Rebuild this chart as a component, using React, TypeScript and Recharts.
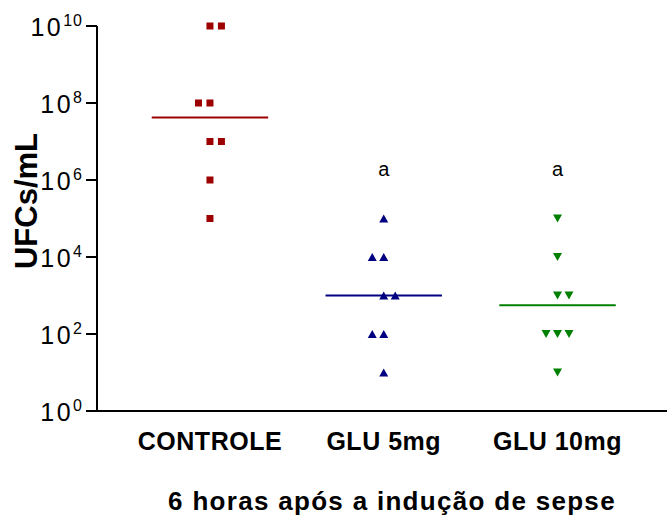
import { ReferenceDot, ReferenceLine, Scatter, ScatterChart, XAxis, YAxis } from "recharts";

const groups = ["CONTROLE", "GLU 5mg", "GLU 10mg"];
const controle = [1e10, 1e10, 1e8, 1e8, 1e7, 1e7, 1e6, 1e5];
const controleSlots = [0, 1, -1, 0, 0, 1, 0, 0];
const glu5 = [1e5, 1e4, 1e4, 1e3, 1e3, 1e2, 1e2, 1e1];
const glu5Slots = [0, -1, 0, 0, 1, -1, 0, 0];
const glu10 = [1e5, 1e4, 1e3, 1e3, 1e2, 1e2, 1e2, 1e1];
const glu10Slots = [0, 0, 0, 1, -1, 0, 1, 0];
const yTicks = [1, 1e2, 1e4, 1e6, 1e8, 1e10];
const sigLetters = ["", "a", "a"];

const JITTER = 0.066;
const HALF = 0.335;
const FONT = "Arial, 'Liberation Sans', Helvetica, sans-serif";

const toPoints = (vals: number[], slots: number[], g: number) =>
  vals.map((v, i) => ({ x: g + slots[i] * JITTER, y: v }));

// horizontal bar = geometric mean of each group
const geoMean = (vals: number[]) =>
  Math.pow(10, vals.reduce((s, v) => s + Math.log10(v), 0) / vals.length);

const series = [
  { name: groups[0], data: toPoints(controle, controleSlots, 1), color: "#9c0000", mark: "square", mean: geoMean(controle) },
  { name: groups[1], data: toPoints(glu5, glu5Slots, 2), color: "#000080", mark: "up", mean: geoMean(glu5) },
  { name: groups[2], data: toPoints(glu10, glu10Slots, 3), color: "#008000", mark: "down", mean: geoMean(glu10) },
];

function Marker({ cx, cy, color, mark }: any) {
  if (mark === "square") return <rect x={cx - 3.5} y={cy - 3.5} width={7} height={7} fill={color} />;
  if (mark === "up") return <path d={`M${cx - 4.5},${cy + 4} L${cx + 4.5},${cy + 4} L${cx},${cy - 4} Z`} fill={color} />;
  return <path d={`M${cx - 4.5},${cy - 4} L${cx + 4.5},${cy - 4} L${cx},${cy + 4} Z`} fill={color} />;
}

function YTick({ x, y, payload }: any) {
  const exp = Math.round(Math.log10(payload.value));
  return (
    <text x={x} y={y + 10} textAnchor="end" fontFamily={FONT} fill="#000">
      <tspan fontSize={25} letterSpacing={2.5}>10</tspan>
      <tspan fontSize={16} letterSpacing={1} dy={-10}>{exp}</tspan>
    </text>
  );
}

function XTick({ x, y, payload }: any) {
  return (
    <text x={x} y={y + 31} textAnchor="middle" fontFamily={FONT} fontWeight="bold" fontSize={25} letterSpacing={0.5} fill="#000">
      {groups[payload.value - 1]}
    </text>
  );
}

export default function App() {
  return (
    <div style={{ position: "absolute", left: 0, top: 0, background: "#fff" }}>
      <ScatterChart width={667} height={516} margin={{ top: 26, right: 0, bottom: 25, left: 0 }}>
        <XAxis
          type="number"
          dataKey="x"
          domain={[0.35, 3.63]}
          ticks={[1, 2, 3]}
          height={80}
          tickLine={false}
          axisLine={{ stroke: "#000", strokeWidth: 2 }}
          tick={<XTick />}
          label={({ viewBox }: any) => (
            <text
              x={viewBox.x + viewBox.width / 2 + 10}
              y={510}
              textAnchor="middle"
              fontFamily={FONT}
              fontWeight="bold"
              fontSize={26}
              letterSpacing={1.3}
              fill="#000"
            >
              6 horas após a indução de sepse
            </text>
          )}
        />
        <YAxis
          type="number"
          dataKey="y"
          scale="log"
          domain={[1, 1e10]}
          ticks={yTicks}
          width={97}
          tickSize={11}
          tickMargin={3}
          axisLine={{ stroke: "#000", strokeWidth: 2 }}
          tickLine={{ stroke: "#000", strokeWidth: 2 }}
          tick={<YTick />}
          label={() => (
            <text
              transform="translate(37, 201) rotate(-90)"
              textAnchor="middle"
              fontFamily={FONT}
              fontWeight="bold"
              fontSize={31}
              fill="#000"
            >
              UFCs/mL
            </text>
          )}
        />
        {series.map((s) => (
          <Scatter
            key={s.name}
            name={s.name}
            data={s.data}
            isAnimationActive={false}
            shape={(p: any) => <Marker {...p} color={s.color} mark={s.mark} />}
          />
        ))}
        {series.map((s, i) => (
          <ReferenceLine
            key={`m-${s.name}`}
            segment={[
              { x: i + 1 - HALF, y: s.mean },
              { x: i + 1 + HALF, y: s.mean },
            ]}
            stroke={s.color}
            strokeWidth={2}
          />
        ))}
        {sigLetters.map((l, i) =>
          l ? (
            <ReferenceDot
              key={`s-${i}`}
              x={i + 1}
              y={2e6}
              r={0}
              label={{ value: l, position: "center", fontSize: 20, fontFamily: FONT, fill: "#000" }}
            />
          ) : null
        )}
      </ScatterChart>
    </div>
  );
}
